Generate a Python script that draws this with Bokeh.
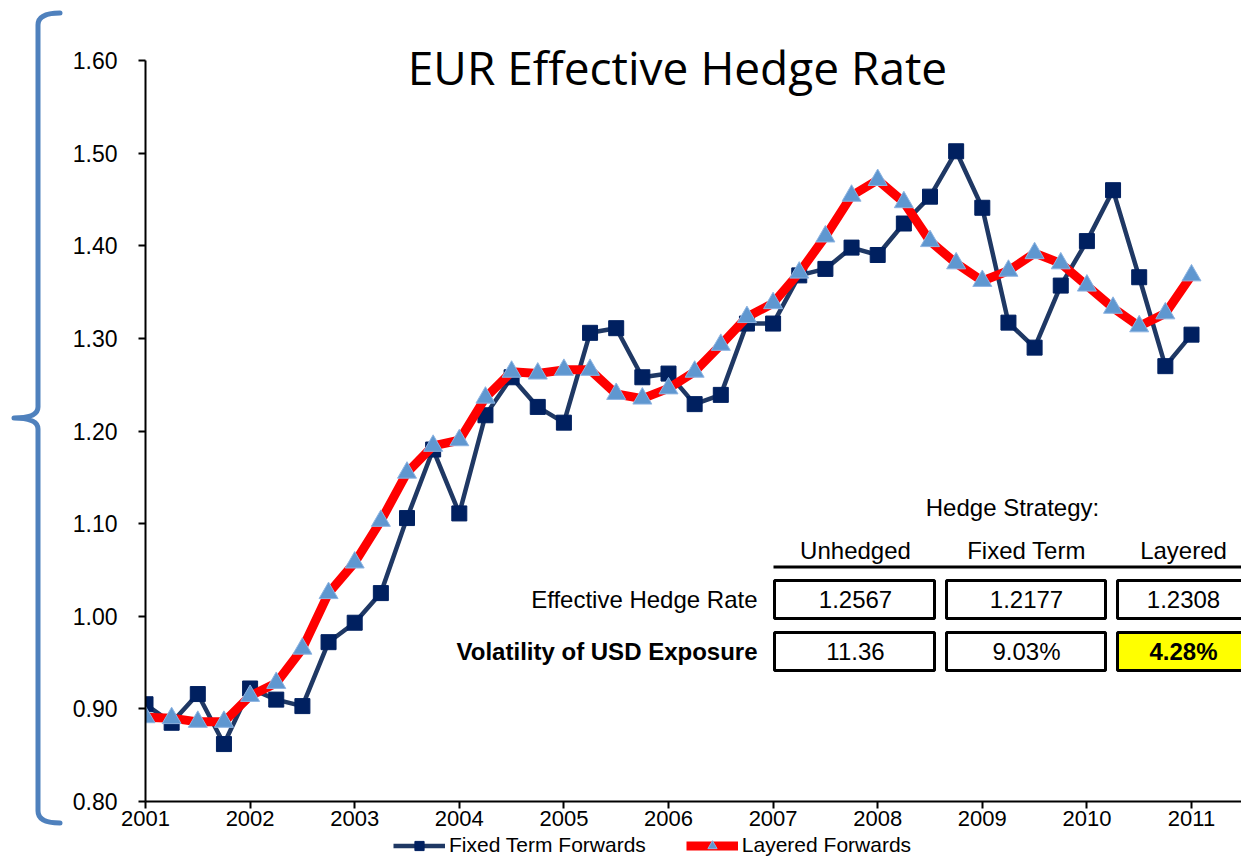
from bokeh.plotting import figure
from bokeh.models import (Range1d, FixedTicker, NumeralTickFormatter, Label,
                          BoxAnnotation, Legend, LegendItem, ColumnDataSource, Div)
from bokeh.layouts import row, column
from bokeh.embed import file_html
from bokeh.resources import INLINE

# ---------------- data ----------------
quarter = [2001.00, 2001.25, 2001.50, 2001.75,
           2002.00, 2002.25, 2002.50, 2002.75,
           2003.00, 2003.25, 2003.50, 2003.75,
           2004.00, 2004.25, 2004.50, 2004.75,
           2005.00, 2005.25, 2005.50, 2005.75,
           2006.00, 2006.25, 2006.50, 2006.75,
           2007.00, 2007.25, 2007.50, 2007.75,
           2008.00, 2008.25, 2008.50, 2008.75,
           2009.00, 2009.25, 2009.50, 2009.75,
           2010.00, 2010.25, 2010.50, 2010.75,
           2011.00]

fixed_term = [0.905, 0.885, 0.916, 0.862,
              0.922, 0.910, 0.903, 0.972,
              0.993, 1.025, 1.106, 1.180,
              1.111, 1.217, 1.258, 1.226,
              1.209, 1.306, 1.311, 1.258,
              1.262, 1.229, 1.239, 1.316,
              1.316, 1.368, 1.375, 1.398,
              1.390, 1.424, 1.453, 1.502,
              1.441, 1.317, 1.290, 1.357,
              1.405, 1.460, 1.366, 1.270,
              1.304]

layered = [0.891, 0.890, 0.886, 0.886,
           0.914, 0.928, 0.965, 1.025,
           1.058, 1.103, 1.155, 1.184,
           1.190, 1.236, 1.264, 1.262,
           1.266, 1.266, 1.240, 1.235,
           1.246, 1.264, 1.293, 1.323,
           1.338, 1.371, 1.410, 1.454,
           1.471, 1.447, 1.405, 1.381,
           1.362, 1.373, 1.392, 1.381,
           1.357, 1.333, 1.313, 1.327,
           1.368]

year_ticks = [2001, 2002, 2003, 2004, 2005, 2006, 2007, 2008, 2009, 2010, 2011]
y_ticks = [0.80, 0.90, 1.00, 1.10, 1.20, 1.30, 1.40, 1.50, 1.60]
y_axis_span = (0.80, 1.60)

series_names = ["Fixed Term Forwards", "Layered Forwards"]
title_text = "EUR Effective Hedge Rate"
table_title = "Hedge Strategy:"
strategies = ["Unhedged", "Fixed Term", "Layered"]
row_labels = ["Effective Hedge Rate", "Volatility of USD Exposure"]
effective_rate = ["1.2567", "1.2177", "1.2308"]
volatility = ["11.36", "9.03%", "4.28%"]

# ---------------- layout constants (page pixels) ----------------
BR_W = 63
TOTAL_H = 857
FRAME_L_PAGE = 145
AXIS_T_PAGE = 60        # where 1.60 sits
FRAME_T_PAGE = 10       # frame extends a bit above 1.60 so the title is not clipped
FRAME_B_PAGE = 801      # where 0.80 sits
X_PANEL = 33
MAIN_H = FRAME_B_PAGE + X_PANEL
LEG_H = TOTAL_H - MAIN_H
MAIN_W = 1241 - BR_W
PX_PER_UNIT = (FRAME_B_PAGE - AXIS_T_PAGE) / (y_axis_span[1] - y_axis_span[0])

FONT = "Liberation Sans"


def sx(px):
    return px - FRAME_L_PAGE


def sy(py):
    return FRAME_B_PAGE - py


# ---------------- left bracket (decoration) ----------------
bracket_svg = (
    '<svg width="%d" height="%d" xmlns="http://www.w3.org/2000/svg">'
    '<path d="M60,13 Q38,13 38,25 L38,407 Q38,418 14,418 Q38,418 38,429 '
    'L38,811 Q38,823 60,823" fill="none" stroke="#4F81BD" stroke-width="5" '
    'stroke-linecap="round" stroke-linejoin="round"/></svg>' % (BR_W, TOTAL_H)
)
br = Div(text=bracket_svg, width=BR_W, height=TOTAL_H, margin=(0, 0, 0, 0))

# ---------------- main figure ----------------
p = figure(width=MAIN_W, height=MAIN_H, title=None,
           x_range=Range1d(2001, 2001 + (BR_W + MAIN_W - FRAME_L_PAGE) / 104.6),
           y_range=Range1d(y_axis_span[0],
                           y_axis_span[1] + (AXIS_T_PAGE - FRAME_T_PAGE) / PX_PER_UNIT),
           output_backend="svg", toolbar_location=None,
           min_border_left=FRAME_L_PAGE - BR_W,
           min_border_right=0,
           min_border_top=FRAME_T_PAGE,
           min_border_bottom=X_PANEL)
p.grid.visible = False
p.outline_line_color = None
p.background_fill_color = "white"
p.border_fill_color = "white"

for ax in (p.xaxis[0], p.yaxis[0]):
    ax.axis_line_color = "black"
    ax.axis_line_width = 2
    ax.major_tick_line_color = "black"
    ax.major_tick_line_width = 2
    ax.major_tick_out = 7
    ax.major_tick_in = 0
    ax.minor_tick_line_color = None
    ax.major_label_text_font = FONT
    ax.major_label_text_color = "black"

p.xaxis.major_label_text_font_size = "22px"
p.yaxis.major_label_text_font_size = "23px"
p.xaxis.ticker = FixedTicker(ticks=year_ticks)
p.xaxis.formatter = NumeralTickFormatter(format="0")
p.xaxis.major_label_standoff = 2
p.yaxis.ticker = FixedTicker(ticks=y_ticks)
p.yaxis.formatter = NumeralTickFormatter(format="0.00")
p.yaxis.major_label_standoff = 21
p.yaxis.bounds = y_axis_span

src = ColumnDataSource(dict(x=quarter, fixed=fixed_term, layered=layered))

STY1 = dict(line_color="#1F3864", line_width=4.5)
MST1 = dict(marker="square", size=15, fill_color="#002060", line_color="#002060")
STY2 = dict(line_color="#FF0000", line_width=9, line_join="round")
MST2 = dict(marker="triangle", size=19, fill_color="#5F97D0", line_color="#8DB4E2",
            line_width=1)

p.line("x", "fixed", source=src, **STY1)
p.scatter("x", "fixed", source=src, **MST1)
p.line("x", "layered", source=src, **STY2)
p.scatter("x", "layered", source=src, **MST2)

# title
p.add_layout(Label(x=sx(677), y=sy(66), x_units="screen", y_units="screen",
                   text=title_text, text_align="center", text_baseline="middle",
                   text_font="Open Sans", text_font_size="46px", text_color="black"))

# table
TFS = "24px"
p.add_layout(Label(x=sx(1012), y=sy(507), x_units="screen", y_units="screen",
                   text=table_title, text_align="center", text_baseline="middle",
                   text_font=FONT, text_font_size=TFS, text_color="black"))

col_centers = [855, 1026, 1183]
col_lr = [(774, 934), (946, 1105), (1117, 1275)]
for c, name in zip(col_centers, strategies):
    p.add_layout(Label(x=sx(c), y=sy(550), x_units="screen", y_units="screen",
                       text=name, text_align="center", text_baseline="middle",
                       text_font=FONT, text_font_size=TFS, text_color="black"))

p.add_layout(BoxAnnotation(left=sx(773), right=sx(1275), top=sy(565), bottom=sy(568),
                           left_units="screen", right_units="screen",
                           top_units="screen", bottom_units="screen",
                           fill_color="black", fill_alpha=1, line_color=None))

rows_tb = [(580, 618), (632, 670)]
row_vals = [effective_rate, volatility]
for r, ((top, bot), vals) in enumerate(zip(rows_tb, row_vals)):
    ymid = (top + bot) / 2
    p.add_layout(Label(x=sx(757), y=sy(ymid), x_units="screen", y_units="screen",
                       text=row_labels[r], text_align="right", text_baseline="middle",
                       text_font=FONT, text_font_size=TFS, text_color="black",
                       text_font_style="bold" if r == 1 else "normal"))
    for c, ((lft, rgt), cx, v) in enumerate(zip(col_lr, col_centers, vals)):
        highlight = (r == 1 and c == 2)
        p.add_layout(BoxAnnotation(left=sx(lft), right=sx(rgt), top=sy(top), bottom=sy(bot),
                                   left_units="screen", right_units="screen",
                                   top_units="screen", bottom_units="screen",
                                   fill_color="#FFFF00" if highlight else "white",
                                   fill_alpha=1, line_color="black", line_alpha=1,
                                   line_width=3))
        p.add_layout(Label(x=sx(cx), y=sy(ymid), x_units="screen", y_units="screen",
                           text=v, text_align="center", text_baseline="middle",
                           text_font=FONT, text_font_size=TFS, text_color="black",
                           text_font_style="bold" if highlight else "normal"))

# ---------------- legend strip (below the x axis) ----------------
lg = figure(width=MAIN_W, height=LEG_H, title=None,
            x_range=Range1d(0, 1), y_range=Range1d(0, 1),
            x_axis_location=None, y_axis_location=None,
            output_backend="svg", toolbar_location=None,
            min_border_left=FRAME_L_PAGE - BR_W, min_border_right=0,
            min_border_top=0, min_border_bottom=0)
lg.grid.visible = False
lg.outline_line_color = None
lg.background_fill_color = "white"
lg.border_fill_color = "white"
# same series drawn here only to feed the legend (they lie outside this strip's range)
g1 = lg.line("x", "fixed", source=src, **STY1)
g1m = lg.scatter("x", "fixed", source=src, **MST1)
g2 = lg.line("x", "layered", source=src, **STY2)
g2m = lg.scatter("x", "layered", source=src, **MST2)

legend = Legend(items=[LegendItem(label=series_names[0], renderers=[g1, g1m]),
                       LegendItem(label=series_names[1], renderers=[g2, g2m])],
                orientation="horizontal",
                location=(393 - FRAME_L_PAGE, 0),
                glyph_width=52, glyph_height=LEG_H, label_height=18,
                label_standoff=4, spacing=40,
                padding=0, margin=0, border_line_color=None,
                background_fill_alpha=0,
                label_text_font=FONT, label_text_font_size="21px",
                label_text_color="black")
lg.add_layout(legend)

layout = row(br, column(p, lg, spacing=0), spacing=0)
open("out.html", "w").write(file_html(layout, INLINE))
